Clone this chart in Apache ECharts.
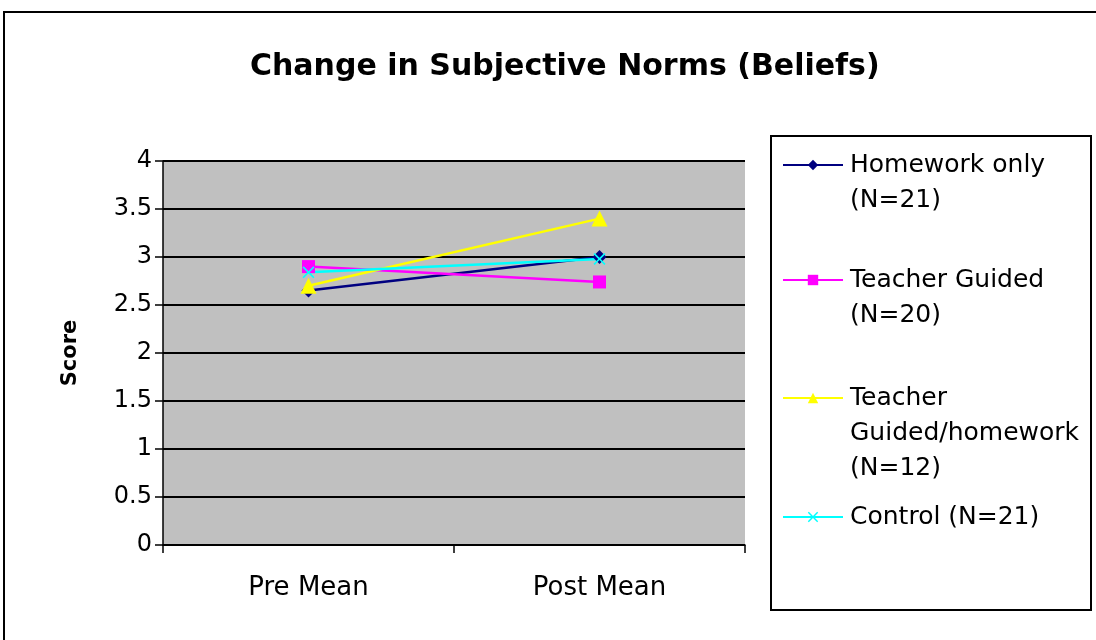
<!DOCTYPE html>
<html>
<head>
<meta charset="utf-8">
<script src="https://cdn.jsdelivr.net/npm/echarts@6/dist/echarts.min.js"></script>
<style>
html,body{margin:0;padding:0;background:#fff;}
#chart{width:1096px;height:640px;}
</style>
</head>
<body>
<div id="chart"></div>
<script>
var titleText = 'Change in Subjective Norms (Beliefs)';
var categories = ['Pre Mean', 'Post Mean'];
var yAxisName = 'Score';
var seriesNames = ['Homework only\n(N=21)', 'Teacher Guided\n(N=20)', 'Teacher\nGuided/homework\n(N=12)', 'Control (N=21)'];
var homeworkOnly = [2.65, 3.0];
var teacherGuided = [2.9, 2.74];
var teacherGuidedHomework = [2.7, 3.4];
var control = [2.84, 2.98];
var seriesColors = ['#000080', '#FF00FF', '#FFFF00', '#00FFFF'];
var seriesValues = [homeworkOnly, teacherGuided, teacherGuidedHomework, control];

var xSym = 'path://M0,1 L1,0 L5,4 L9,0 L10,1 L6,5 L10,9 L9,10 L5,6 L1,10 L0,9 L4,5 Z';
var symbols = ['diamond', 'rect', 'triangle', xSym];
var symbolSizes = [14, 13, 16, 12];

var FONT = 'DejaVu Sans';
var LH = 35;
var legendIconY = [165, 280, 398, 517];

var series = seriesNames.map(function (n, i) {
  return {
    name: n,
    type: 'line',
    data: seriesValues[i],
    symbol: symbols[i],
    symbolSize: symbolSizes[i],
    color: seriesColors[i],
    lineStyle: { width: 2.5, color: seriesColors[i] },
    itemStyle: { color: seriesColors[i] },
    animation: false
  };
});

var legends = seriesNames.map(function (n, i) {
  var lines = n.split('\n').length;
  var blanks = lines - 1;
  var total = lines + blanks;
  return {
    data: [n],
    orient: 'vertical',
    left: 782,
    top: legendIconY[i] - total * LH / 2,
    padding: 0,
    itemWidth: 60,
    itemHeight: 13,
    selectedMode: false,
    formatter: function (name) {
      var b = '';
      for (var k = 0; k < blanks; k++) b += '\n';
      return b + name;
    },
    textStyle: { fontFamily: FONT, fontSize: 25, color: '#000', lineHeight: LH, padding: [0, 0, 0, 2] }
  };
});

var chart = echarts.init(document.getElementById('chart'), null, { renderer: 'canvas' });
chart.setOption({
  backgroundColor: '#ffffff',
  animation: false,
  title: {
    text: titleText,
    left: 245,
    top: 47,
    textStyle: { fontFamily: FONT, fontWeight: 'bold', fontSize: 30, color: '#000' }
  },
  grid: {
    left: 163, right: 351, top: 161, bottom: 95,
    show: true, backgroundColor: '#C0C0C0', borderWidth: 0
  },
  legend: legends,
  xAxis: {
    type: 'category',
    data: categories,
    boundaryGap: true,
    axisLine: { show: true, lineStyle: { color: '#000', width: 1.5 } },
    axisTick: { show: true, length: 8, lineStyle: { color: '#000', width: 1.5 } },
    axisLabel: { fontFamily: FONT, fontSize: 26, color: '#000', margin: 30 },
    splitLine: { show: false }
  },
  yAxis: {
    type: 'value',
    min: 0, max: 4, interval: 0.5,
    name: yAxisName,
    nameLocation: 'middle',
    nameRotate: 90,
    nameGap: 82,
    nameTextStyle: { fontFamily: FONT, fontWeight: 'bold', fontSize: 21, color: '#000' },
    axisLine: { show: true, lineStyle: { color: '#000', width: 1.5 } },
    axisTick: { show: true, length: 8, lineStyle: { color: '#000', width: 1.5 } },
    axisLabel: { fontFamily: FONT, fontSize: 24, color: '#000', margin: 11 },
    splitLine: { show: true, lineStyle: { color: '#000', width: 2.2 } }
  },
  graphic: [
    { type: 'rect', shape: { x: 4, y: 12, width: 1110, height: 660 }, style: { fill: 'none', stroke: '#000', lineWidth: 2 }, silent: true, z: -1 },
    { type: 'rect', shape: { x: 771, y: 136, width: 320, height: 474 }, style: { fill: 'none', stroke: '#000', lineWidth: 2 }, silent: true }
  ],
  series: series
});
</script>
</body>
</html>
